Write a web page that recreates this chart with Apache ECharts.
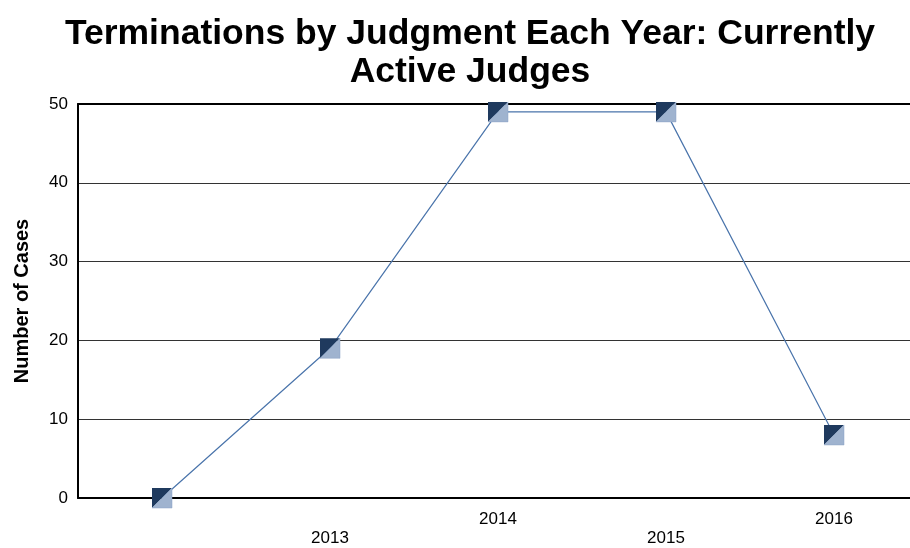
<!DOCTYPE html>
<html>
<head>
<meta charset="utf-8">
<title>Terminations by Judgment</title>
<script src="https://cdn.jsdelivr.net/npm/echarts@6/dist/echarts.min.js"></script>
<style>
  html, body { margin: 0; padding: 0; background: #fff; overflow: hidden; }
  /* the plot runs past the right edge of the window, like the original */
  #chart { width: 920px; height: 548px; }
</style>
</head>
<body>
<div id="chart"></div>
<script>
  // data
  const years = ['', '2013', '2014', '2015', '2016']
  const cases = [0, 19, 49, 49, 8]
  const yTicks = { min: 0, max: 50, interval: 10 }

  const font = 'Liberation Sans, Arial, sans-serif'
  const darkBlue = '#1f3a5e'
  const lightBlue = '#9fb3cf'

  const chart = echarts.init(document.getElementById('chart'))

  chart.setOption({
    animation: false,
    textStyle: { fontFamily: font },
    title: {
      text: 'Terminations by Judgment Each Year: Currently\nActive Judges',
      left: 465,
      top: 10,
      textAlign: 'center',
      textStyle: {
        fontFamily: font,
        fontSize: 35.5,
        fontWeight: 'bold',
        color: '#000',
        lineHeight: 38
      }
    },
    grid: {
      left: 78,
      top: 104,
      width: 840,
      height: 394
    },
    xAxis: [{
      type: 'category',
      data: years,
      axisLine: { lineStyle: { color: '#000', width: 2 } },
      axisTick: { show: false },
      axisLabel: {
        interval: 0,
        margin: 12,
        fontSize: 17,
        lineHeight: 19,
        color: '#000',
        verticalAlign: 'top',
        formatter: function (value, index) {
          // labels alternate between two rows
          return index % 2 === 1 ? '\n' + value : value
        }
      }
    }, {
      // top border of the plot
      type: 'category',
      position: 'top',
      data: years,
      axisLine: { lineStyle: { color: '#000', width: 2 } },
      axisTick: { show: false },
      axisLabel: { show: false }
    }],
    yAxis: {
      type: 'value',
      min: yTicks.min,
      max: yTicks.max,
      interval: yTicks.interval,
      name: 'Number of Cases',
      nameLocation: 'middle',
      nameGap: 46,
      nameTextStyle: {
        fontFamily: font,
        fontSize: 20,
        fontWeight: 'bold',
        color: '#000'
      },
      axisLine: { show: true, lineStyle: { color: '#000', width: 2 } },
      axisTick: { show: false },
      axisLabel: { fontSize: 17, color: '#000', margin: 10, fontFamily: font },
      splitLine: { lineStyle: { color: '#333', width: 1 } }
    },
    series: [{
      name: 'dark',
      type: 'line',
      data: cases,
      symbol: 'path://M0,0L20,0L0,20Z',
      symbolSize: 20,
      showAllSymbol: true,
      lineStyle: { color: '#4a74ab', width: 1.2 },
      itemStyle: { color: darkBlue }
    }, {
      name: 'light',
      type: 'line',
      data: cases,
      symbol: 'path://M20,0L20,20L0,20Z',
      symbolSize: 20,
      showAllSymbol: true,
      lineStyle: { opacity: 0 },
      itemStyle: { color: lightBlue, borderColor: '#8aa2c4', borderWidth: 0.5 }
    }]
  })
</script>
</body>
</html>
